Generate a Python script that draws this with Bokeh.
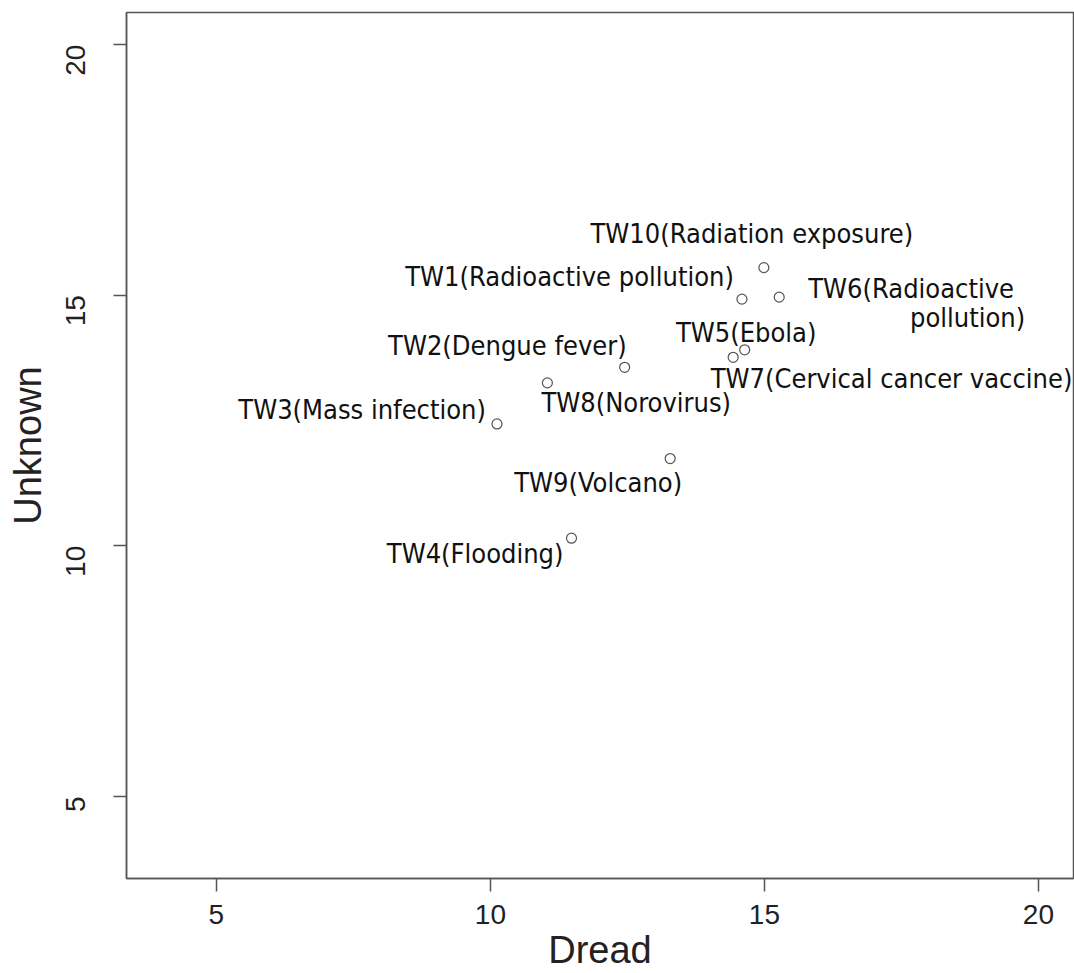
from bokeh.plotting import figure
from bokeh.models import FixedTicker, ColumnDataSource, Range1d
from bokeh.core.properties import value
from bokeh.embed import file_html
from bokeh.resources import INLINE
import math

# ---- data ----
names = ["TW1(Radioactive pollution)", "TW2(Dengue fever)", "TW3(Mass infection)",
         "TW4(Flooding)", "TW5(Ebola)", "TW6(Radioactive\npollution)",
         "TW7(Cervical cancer vaccine)", "TW8(Norovirus)", "TW9(Volcano)",
         "TW10(Radiation exposure)"]
dread = [14.59, 12.45, 10.12, 11.48, 14.43, 15.27, 14.64, 11.04, 13.28, 14.99]
unknown = [14.92, 13.56, 12.43, 10.15, 13.76, 14.96, 13.91, 13.25, 11.74, 15.55]
x_ticks = [5, 10, 15, 20]
y_ticks = [5, 10, 15, 20]

# ---- label placement (screen px offsets per label line, align) ----
label_layout = [
    [(-8, -23, "right")],
    [(2, -22, "right")],
    [(-11, -14, "right")],
    [(-8, 15, "right")],
    [(13, -25, "center")],
    [(29, -9, "left"), (246, 20, "right")],
    [(-34, 29, "left")],
    [(-6, 20, "left")],
    [(12, 24, "right")],
    [(-12, -34, "center")],
]

lx, ly, lt, ldx, ldy, lal = [], [], [], [], [], []
for name, xv, yv, lay in zip(names, dread, unknown, label_layout):
    for line, (dx, dy, al) in zip(name.split("\n"), lay):
        lx.append(xv); ly.append(yv); lt.append(line)
        ldx.append(dx); ldy.append(dy); lal.append(al)

p = figure(width=1074, height=973, output_backend="svg", toolbar_location=None,
           x_range=Range1d(3.36, 20.64), y_range=Range1d(3.36, 20.64),
           min_border_left=126, min_border_right=1, min_border_top=12,
           min_border_bottom=93)
p.grid.visible = False
p.outline_line_color = "#555555"
p.outline_line_width = 1.5
p.background_fill_color = "white"
p.border_fill_color = "white"

p.scatter(dread, unknown, marker="circle", size=10, fill_color=None,
          line_color="#555555", line_width=1.2)

src = ColumnDataSource(dict(x=lx, y=ly, text=lt, dx=ldx, dy=ldy, align=lal))
p.text(x="x", y="y", text="text", x_offset="dx", y_offset="dy", text_align="align",
       text_baseline="middle", source=src, text_font=value("DejaVu Sans Condensed"),
       text_font_size="27px", text_color="#111111")

for ax in (p.xaxis[0], p.yaxis[0]):
    ax.axis_line_color = "#555555"
    ax.axis_line_width = 1.5
    ax.major_tick_line_color = "#555555"
    ax.major_tick_line_width = 1.5
    ax.major_tick_out = 13
    ax.major_tick_in = 0
    ax.minor_tick_line_color = None
    ax.major_label_text_font = "Liberation Sans"
    ax.major_label_text_font_size = "28px"
    ax.major_label_text_color = "#222222"
    ax.axis_label_text_font = "Liberation Sans"
    ax.axis_label_text_font_size = "38px"
    ax.axis_label_text_font_style = "normal"
    ax.axis_label_text_color = "#222222"

p.xaxis.ticker = FixedTicker(ticks=x_ticks)
p.yaxis.ticker = FixedTicker(ticks=y_ticks)
p.xaxis.axis_label = "Dread"
p.yaxis.axis_label = "Unknown"
p.yaxis.major_label_orientation = math.pi / 2
p.xaxis.major_label_standoff = 13
p.yaxis.major_label_standoff = 38
p.xaxis.axis_label_standoff = 2
p.yaxis.axis_label_standoff = 5

open("out.html", "w").write(file_html(p, INLINE))
